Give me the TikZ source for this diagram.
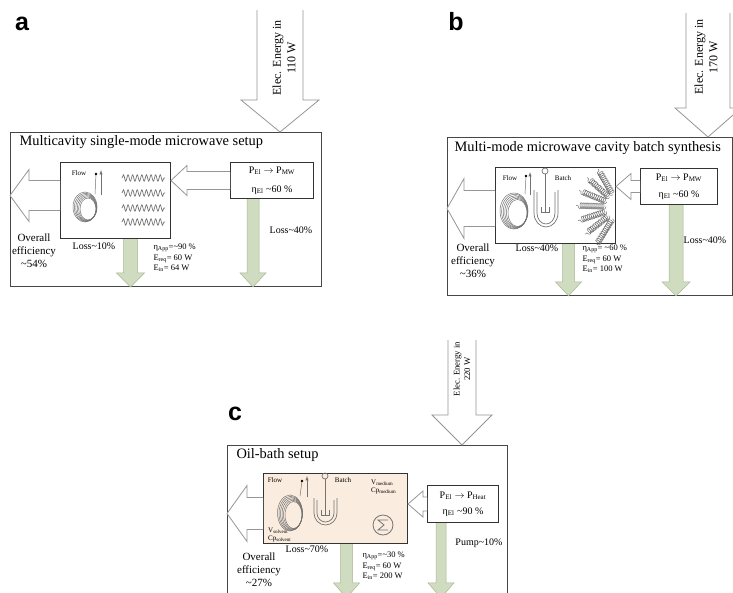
\documentclass[tikz,border=0pt]{standalone}
\usepackage{fontspec}
\setmainfont{Liberation Serif}
\setsansfont{Liberation Sans}
\usetikzlibrary{calc,decorations.pathmorphing}

\definecolor{boxgray}{RGB}{70,70,70}
\definecolor{arrowgray}{RGB}{150,150,150}
\definecolor{lossgreen}{RGB}{207,220,192}
\definecolor{lossedge}{RGB}{168,184,148}
\definecolor{bathfill}{RGB}{250,236,222}
\definecolor{coilgray}{RGB}{115,115,115}

\newcommand\subtxt[1]{\textsubscript{#1}}
% block arrows: style, tail, target, shaft half width, head half width, head length
\newcommand\fatdown[6]{%
  \path[#1] ($(#2)+(-#4,0)$) -- ($(#2|-#3)+(-#4,-#6)$) -- ($(#2|-#3)+(-#5,-#6)$)
    -- (#2|-#3) -- ($(#2|-#3)+(#5,-#6)$) -- ($(#2|-#3)+(#4,-#6)$) -- ($(#2)+(#4,0)$);}
\newcommand\fatleft[6]{%
  \path[#1] ($(#2)+(0,-#4)$) -- ($(#3|-#2)+(#6,-#4)$) -- ($(#3|-#2)+(#6,-#5)$)
    -- (#3|-#2) -- ($(#3|-#2)+(#6,#5)$) -- ($(#3|-#2)+(#6,#4)$) -- ($(#2)+(0,#4)$);}

\begin{document}
\begin{tikzpicture}[
x=1pt,y=-1pt,
panel/.style={font={\sffamily\bfseries\fontsize{25}{25}\selectfont}},
outerbox/.style={draw=boxgray,line width=0.9pt,anchor=north west,inner sep=0pt},
innerbox/.style={draw=black!80,line width=1pt,anchor=north west,inner sep=0pt},
title/.style={anchor=west,font=\fontsize{14.4}{16}\selectfont},
hollow/.style={draw=arrowgray,fill=white,line width=0.8pt},
loss/.style={draw=lossedge,fill=lossgreen,line width=0.5pt},
note/.style={font=\fontsize{10}{12}\selectfont},
overall/.style={align=center,font=\fontsize{11}{13}\selectfont},
specs/.style={anchor=west,align=left,font=\fontsize{8.5}{10.5}\selectfont},
conv/.style={align=center,font=\fontsize{10}{12}\selectfont},
elec/.style={rotate=90,align=center,font=\fontsize{12}{14.5}\selectfont},
tag/.style={font=\fontsize{7}{8}\selectfont,inner sep=1pt},
ring/.style={draw=coilgray,line width=0.5pt},
wave/.style={coilgray,line width=0.7pt,decorate,decoration={snake,amplitude=3.2pt,segment length=4.6pt}},
spring/.style={coilgray,line width=0.5pt,decorate,decoration={coil,amplitude=3pt,segment length=2pt}}
]
\path[fill=white,use as bounding box] (0,0) rectangle (733,592);
\clip (0,0) rectangle (733,592);

%% (a) multicavity single-mode
\node[panel] (la) at (22,24) {a};
\node[outerbox,minimum width=311pt,minimum height=154pt] (A) at (10,132) {};
\node[title] (Atitle) at (16,142) {Multicavity single-mode microwave setup};
\node[innerbox,minimum width=110pt,minimum height=76pt] (Acav) at (60,162) {};
\node[innerbox,conv,minimum width=83pt,minimum height=36pt] (Amw) at (230,162)
  {P\subtxt{El} $\rightarrow$ P\subtxt{MW}\\[7pt] η\subtxt{El} \textasciitilde60 \%};
\begin{scope}[shift={(Acav.north west)}]
  \node[tag] (Aflow) at (19,11) {Flow};
  \foreach \k in {0,...,5}
    \draw[ring] (25+0.6*\k,45+0.4*\k) ellipse [x radius=12-0.8*\k, y radius=15-0.8*\k];
  \draw[ring] (36,12) -- (35,32);
  \fill (36,12) circle (1.4);
  \draw[ring,-latex] (41,33) -- (41,8);
  \foreach \y in {16,31,46,60}
    \draw[wave] (62,\y) -- (105,\y);
\end{scope}
\coordinate (Ain) at (280,10);
\coordinate (Aout) at ($(Acav.west)+(0,-5)$);
\coordinate (Aloss1) at ($(Acav.south)+(15,0)$);
\coordinate (Aloss2) at ($(Amw.south)+(-19,0)$);
\fatdown{hollow}{Ain}{A.north}{23}{39}{32}
\fatleft{hollow}{Amw.west}{Acav.east}{9}{15}{16}
\fatleft{hollow}{Aout}{A.west}{15}{26}{19}
\fatdown{loss}{Aloss1}{A.south}{7}{14}{14}
\fatdown{loss}{Aloss2}{A.south}{6}{13}{14}
\node[elec] (Aelec) at (284,58) {Elec. Energy in\\110 W};
\node[overall] (Aeff) at (34,251) {Overall\\efficiency\\\textasciitilde54\%};
\node[note] (Acavloss) at (94,246) {Loss\textasciitilde10\%};
\node[specs] (Aspec) at (150,258) {η\subtxt{App}=\textasciitilde90 \%\\E\subtxt{req}= 60 W\\E\subtxt{in}= 64 W};
\node[note] (Amwloss) at (291,230) {Loss\textasciitilde40\%};

%% (b) multi-mode batch
\node[panel] (lb) at (456,22) {b};
\node[outerbox,minimum width=285pt,minimum height=158pt] (B) at (447,137) {};
\node[title] (Btitle) at (451,148) {Multi-mode microwave cavity batch synthesis};
\node[innerbox,minimum width=120pt,minimum height=76pt] (Bcav) at (495,167) {};
\node[innerbox,conv,minimum width=77pt,minimum height=36pt] (Bmw) at (640,168)
  {P\subtxt{El} $\rightarrow$ P\subtxt{MW}\\[5pt] η\subtxt{El} \textasciitilde60 \%};
\begin{scope}[shift={(Bcav.north west)}]
  \node[tag] (Bflow) at (15,11) {Flow};
  \node[tag] (Bbatch) at (68,11) {Batch};
  \foreach \k in {0,...,5}
    \draw[ring] (19+0.7*\k,44+0.4*\k) ellipse [x radius=14-0.9*\k, y radius=18-0.9*\k];
  \draw[ring] (31,9) -- (30,27);
  \fill (31,9) circle (1.4);
  \draw[ring,-latex] (35,28) -- (35,5);
  \draw[ring,line width=0.7pt] (50,4) circle (3);
  \draw[ring,line width=0.7pt] (50,7) -- (50,45) (46,40) -- (46,45) -- (54,45) -- (54,40);
  \draw[ring,line width=0.7pt] (39,23) -- (39,46) arc[start angle=180,end angle=0,x radius=12,y radius=14] -- (63,23);
  \draw[ring,line width=0.7pt] (42,25) -- (42,46) arc[start angle=180,end angle=0,x radius=9,y radius=11] -- (60,25);
  \coordinate (Bsrc) at (125,40);
  \foreach \a in {122,142,162,182,202,222,240}
    \draw[spring] ($(Bsrc)+(\a:14)$) -- ($(Bsrc)+(\a:44)$);
\end{scope}
\coordinate (Bin) at (708,13);
\coordinate (Bout) at ($(Bcav.west)+(0,3)$);
\coordinate (Bloss1) at ($(Bcav.south)+(13,0)$);
\coordinate (Bloss2) at ($(Bmw.south)+(-3,0)$);
\fatdown{hollow}{Bin}{B.north}{22}{33}{29}
\fatleft{hollow}{Bmw.west}{Bcav.east}{6}{13}{15}
\fatleft{hollow}{Bout}{B.west}{18}{30}{17}
\fatdown{loss}{Bloss1}{B.south}{6}{13}{14}
\fatdown{loss}{Bloss2}{B.south}{7}{14}{14}
\node[elec] (Belec) at (706,57) {Elec. Energy in\\170 W};
\node[overall] (Beff) at (473,261) {Overall\\efficiency\\\textasciitilde36\%};
\node[note] (Bcavloss) at (537,248) {Loss\textasciitilde40\%};
\node[specs] (Bspec) at (579,259) {η\subtxt{App}= \textasciitilde60 \%\\E\subtxt{req}= 60 W\\E\subtxt{in}= 100 W};
\node[note] (Bmwloss) at (705,240) {Loss\textasciitilde40\%};

%% (c) oil bath
\node[panel] (lc) at (235,414) {c};
\node[outerbox,minimum width=280pt,minimum height=152pt] (C) at (227,445) {};
\node[title] (Ctitle) at (233,455) {Oil-bath setup};
\node[innerbox,fill=bathfill,minimum width=144pt,minimum height=70pt] (Ccav) at (263,473) {};
\node[innerbox,conv,minimum width=71pt,minimum height=37pt] (Cmw) at (427,485)
  {P\subtxt{El} $\rightarrow$ P\subtxt{Heat}\\[4pt] η\subtxt{El} \textasciitilde90 \%};
\begin{scope}[shift={(Ccav.north west)}]
  \node[tag] (Cflow) at (12,7) {Flow};
  \node[tag] (Cbatch) at (80,7) {Batch};
  \node[tag,anchor=west,align=left] (Cmedium) at (107,14) {V\subtxt{medium}\\Cp\subtxt{medium}};
  \node[tag,anchor=west,align=left] (Csolvent) at (4,62) {V\subtxt{solvent}\\Cp\subtxt{solvent}};
  \foreach \k in {0,...,5}
    \draw[ring] (27+0.7*\k,40+0.4*\k) ellipse [x radius=12.5-0.8*\k, y radius=18-0.9*\k];
  \draw[ring] (39,8) -- (37,23);
  \fill (39,8) circle (1.4);
  \draw[ring,-latex] (44,24) -- (44,3);
  \draw[ring,line width=0.7pt] (62,3) circle (3);
  \draw[ring,line width=0.7pt] (62,6) -- (62,42) (58,37) -- (58,42) -- (66,42) -- (66,37);
  \draw[ring,line width=0.7pt] (51,25) -- (51,40) arc[start angle=180,end angle=0,x radius=11.5,y radius=12] -- (74,25);
  \draw[ring,line width=0.7pt] (54,27) -- (54,40) arc[start angle=180,end angle=0,x radius=8.5,y radius=9] -- (71,27);
  \draw[ring,line width=0.8pt] (120,52) circle (10);
  \draw[ring,line width=0.8pt] (125,47) -- (115,47) -- (121,52) -- (115,57) -- (125,57);
\end{scope}
\coordinate (Cin) at (462,340);
\coordinate (Cout) at ($(Ccav.west)+(0,5)$);
\coordinate (Closs1) at ($(Ccav.south)+(11,0)$);
\coordinate (Closs2) at ($(Cmw.south)+(-22,0)$);
\fatdown{hollow}{Cin}{C.north}{14}{30}{30}
\fatleft{hollow}{Cmw.west}{Ccav.east}{7}{13}{15}
\fatleft{hollow}{Cout}{C.west}{16}{28}{20}
\fatdown{loss}{Closs1}{C.south}{6}{13}{15}
\fatdown{loss}{Closs2}{C.south}{5}{13}{15}
\node[elec,font=\fontsize{8.7}{10.5}\selectfont] (Celec) at (462,369) {Elec. Energy in\\220 W};
\node[overall] (Ceff) at (259,570) {Overall\\efficiency\\\textasciitilde27\%};
\node[note] (Ccavloss) at (307,549) {Loss\textasciitilde70\%};
\node[specs] (Cspec) at (359,566) {η\subtxt{App}=\textasciitilde30 \%\\E\subtxt{req}= 60 W\\E\subtxt{in}= 200 W};
\node[note] (Cpump) at (479,543) {Pump\textasciitilde10\%};
\end{tikzpicture}
\end{document}
